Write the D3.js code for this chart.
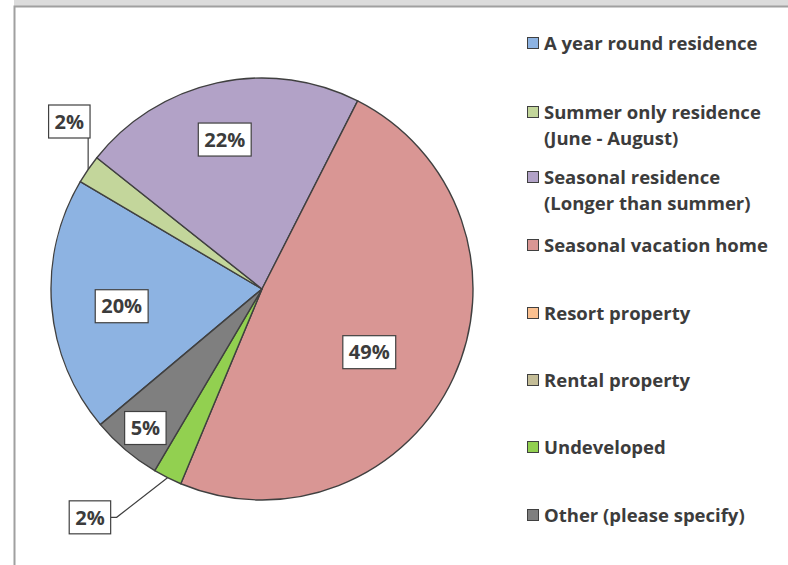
<!DOCTYPE html>
<html>
<head>
<meta charset="utf-8">
<script src="https://cdn.jsdelivr.net/npm/d3@7"></script>
<style>
  body { margin: 0; background: #fff; }
  svg { display: block; }
  text { font-family: "Open Sans", Lato, sans-serif; font-weight: bold; fill: #3c3c3c; }
</style>
</head>
<body>
<div id="chart"></div>
<script>
// categories (legend order) and their share in percent
var categories = [
  ["A year round residence"],
  ["Summer only residence", "(June - August)"],
  ["Seasonal residence", "(Longer than summer)"],
  ["Seasonal vacation home"],
  ["Resort property"],
  ["Rental property"],
  ["Undeveloped"],
  ["Other (please specify)"]
];
var values = [19.6, 2.2, 21.8, 48.8, 0, 0, 2.2, 5.4];
var colors = ["#8db3e2", "#c3d69b", "#b2a2c7", "#d99694", "#fac090", "#c4bd97", "#92d050", "#7f7f7f"];

// where the data labels sit: [angle in degrees clockwise from 12 o'clock, distance / radius]
var labelPos = [[263, 0.67], [311, 1.21], [346, 0.73], [120.5, 0.59], null, null, [217, 1.355], [220, 0.86]];

// legend row positions (first line centre)
var legendY = [43, 112, 177, 245, 313, 380, 447, 515];

var width = 788, height = 565;
var cx = 262, cy = 289, radius = 211;
var startDeg = 230;

var svg = d3.select("#chart")
  .append("svg")
    .attr("width", width)
    .attr("height", height);

// frame like the spreadsheet chart area
svg.append("rect").attr("x", 14).attr("y", 0).attr("width", width - 14).attr("height", 6).attr("fill", "#dcdcdc");
svg.append("path")
  .attr("d", "M14.5," + height + "V6.5H" + width)
  .attr("fill", "none")
  .attr("stroke", "#a0a0a0")
  .attr("stroke-width", 2);

var rad = Math.PI / 180;
var pie = d3.pie()
  .sort(null)
  .startAngle(startDeg * rad)
  .endAngle(startDeg * rad + 2 * Math.PI);

var arcs = pie(values);
var arc = d3.arc().innerRadius(0).outerRadius(radius);

var g = svg.append("g").attr("transform", "translate(" + cx + "," + cy + ")");

g.selectAll("path.slice")
  .data(arcs.filter(function(d) { return d.value > 0; }))
  .enter()
  .append("path")
    .attr("class", "slice")
    .attr("d", arc)
    .attr("fill", function(d) { return colors[d.index]; })
    .attr("stroke", "#404040")
    .attr("stroke-width", 1.4)
    .attr("stroke-linejoin", "round");

function polar(deg, r) {
  return [r * Math.sin(deg * rad), -r * Math.cos(deg * rad)];
}

// data labels
arcs.forEach(function(d, i) {
  if (!labelPos[i]) return;
  var p = polar(labelPos[i][0], labelPos[i][1] * radius);
  var lg = g.append("g");
  var box = lg.append("rect");
  var t = lg.append("text")
    .attr("x", p[0])
    .attr("y", p[1])
    .attr("text-anchor", "middle")
    .attr("dy", "0.36em")
    .style("font-size", "20px")
    .text(Math.round(d.value) + "%");
  var bb = t.node().getBBox();
  var w = bb.width + 12, h = 33;
  var bx = p[0] - w / 2, by = p[1] - h / 2;
  box.attr("x", bx).attr("y", by).attr("width", w).attr("height", h)
    .attr("fill", "#fff").attr("stroke", "#404040").attr("stroke-width", 1.2);

  // leader line for labels outside the pie
  if (labelPos[i][1] > 1) {
    var mid = (d.startAngle + d.endAngle) / 2 / rad;
    var e = polar(mid, radius);
    var pts;
    if (e[0] <= bx + w + 1) {
      pts = [[e[0], e[1]], [e[0], by + h]];
    } else {
      pts = [[e[0], e[1]], [bx + w + 6, p[1]], [bx + w, p[1]]];
    }
    g.insert("path", ":first-child")
      .attr("d", d3.line()(pts))
      .attr("fill", "none")
      .attr("stroke", "#404040")
      .attr("stroke-width", 1.2);
  }
});

// legend
var legend = svg.append("g");
categories.forEach(function(lines, i) {
  var y = legendY[i];
  legend.append("rect")
    .attr("x", 527.5)
    .attr("y", y - 5.5)
    .attr("width", 11)
    .attr("height", 11)
    .attr("fill", colors[i])
    .attr("stroke", "#404040")
    .attr("stroke-width", 1);
  lines.forEach(function(line, j) {
    legend.append("text")
      .attr("x", 544)
      .attr("y", y + j * 26)
      .attr("dy", "0.36em")
      .style("font-size", "18.5px")
      .text(line);
  });
});
</script>
</body>
</html>
